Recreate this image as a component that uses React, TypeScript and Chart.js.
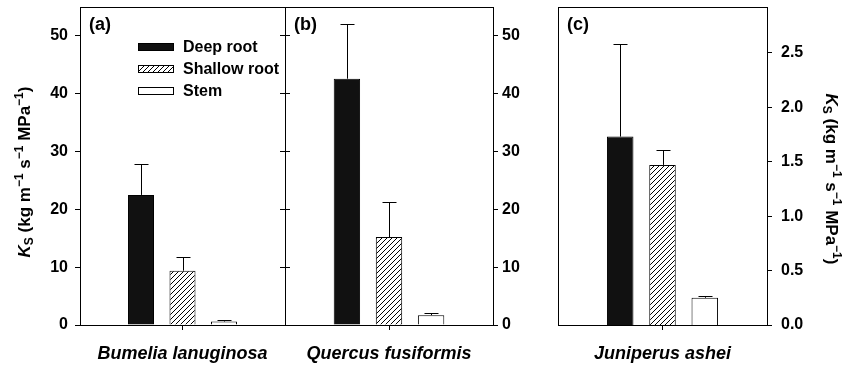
import React, { useEffect, useRef } from 'react';
import { Chart, registerables } from 'chart.js';

Chart.register(...registerables);

const FONT = '"Liberation Sans", Arial, Helvetica, sans-serif';

// ---- data ----
const categories = ['Bumelia lanuginosa', 'Quercus fusiformis', 'Juniperus ashei'];
const panelLabels = ['(a)', '(b)', '(c)'];
const seriesNames = ['Deep root', 'Shallow root', 'Stem'];
const deepRoot = [22.5, 42.6, 1.73];
const shallowRoot = [9.4, 15.2, 1.47];
const stem = [0.6, 1.7, 0.25];
const deepRootErr = [5.3, 9.5, 0.85];
const shallowRootErr = [2.3, 6.1, 0.14];
const stemErr = [0.25, 0.3, 0.015];
const yMax = [55, 55, 2.92];
const yStep = [10, 10, 0.5];
const yTitleParts = [
  { t: 'K', kind: 'italic' },
  { t: 'S', kind: 'sub' },
  { t: ' (kg m', kind: 'main' },
  { t: '\u22121', kind: 'sup' },
  { t: ' s', kind: 'main' },
  { t: '\u22121', kind: 'sup' },
  { t: ' MPa', kind: 'main' },
  { t: '\u22121', kind: 'sup' },
  { t: ')', kind: 'main' },
];

// ---- layout per panel ----
const panels = [
  { left: 0, width: 300, leftMode: 'labels', rightMode: 'ticks', leftW: 80, rightW: 15, legend: true, title: 'left' },
  { left: 270, width: 290, leftMode: 'ticks', rightMode: 'labels', leftW: 15, rightW: 67, legend: false, title: '' },
  { left: 540, width: 307, leftMode: 'none', rightMode: 'labels', leftW: 18, rightW: 80, legend: false, title: 'right' },
];
const labelPad = [7, 4, 9];

function fixBox(w?: number, h?: number) {
  return (s: any) => {
    if (w !== undefined) s.width = w;
    if (h !== undefined) s.height = h;
    s.paddingTop = 0;
    s.paddingBottom = 0;
    s.paddingLeft = 0;
    s.paddingRight = 0;
  };
}

function yScale(pos: string, mode: string, width: number, max: number, step: number, pad: number) {
  return {
    type: 'linear',
    position: pos,
    min: 0,
    max,
    ticks: {
      display: mode === 'labels',
      stepSize: step,
      includeBounds: false,
      color: '#000',
      padding: pad,
      font: { family: FONT, size: 16, weight: 'bold' },
      callback: (v: any) => (step < 1 ? Number(v).toFixed(1) : String(v)),
    },
    grid: { display: mode !== 'none', drawOnChartArea: false, tickLength: 5, color: '#000', lineWidth: 1 },
    border: { display: false },
    afterFit: fixBox(width),
  };
}

function makeHatch(ctx: CanvasRenderingContext2D) {
  const c = document.createElement('canvas');
  c.width = 5;
  c.height = 5;
  const g = c.getContext('2d') as CanvasRenderingContext2D;
  g.fillStyle = '#fff';
  g.fillRect(0, 0, 5, 5);
  g.strokeStyle = '#000';
  g.lineWidth = 1;
  g.beginPath();
  g.moveTo(0, 5);
  g.lineTo(5, 0);
  g.moveTo(-1, 1);
  g.lineTo(1, -1);
  g.moveTo(4, 6);
  g.lineTo(6, 4);
  g.stroke();
  return ctx.createPattern(c, 'repeat');
}

function drawRich(ctx: CanvasRenderingContext2D) {
  const fonts: any = {
    italic: `italic bold 17px ${FONT}`,
    main: `bold 17px ${FONT}`,
    sub: `bold 12px ${FONT}`,
    sup: `bold 12px ${FONT}`,
  };
  const dys: any = { italic: 0, main: 0, sub: 3, sup: -7 };
  let total = 0;
  const widths = yTitleParts.map((p) => {
    ctx.font = fonts[p.kind];
    const w = ctx.measureText(p.t).width;
    total += w;
    return w;
  });
  let x = -total / 2;
  ctx.textBaseline = 'alphabetic';
  ctx.textAlign = 'left';
  ctx.fillStyle = '#000';
  yTitleParts.forEach((p, i) => {
    ctx.font = fonts[p.kind];
    ctx.fillText(p.t, x, dys[p.kind]);
    x += widths[i];
  });
}

export default function App() {
  const refs = [useRef<HTMLCanvasElement>(null), useRef<HTMLCanvasElement>(null), useRef<HTMLCanvasElement>(null)];

  useEffect(() => {
    const charts: Chart[] = [];
    panels.forEach((p, i) => {
      const canvas = refs[i].current as HTMLCanvasElement;
      const ctx = canvas.getContext('2d') as CanvasRenderingContext2D;
      const hatch = makeHatch(ctx);
      const values = [deepRoot[i], shallowRoot[i], stem[i]];
      const errs = [deepRootErr[i], shallowRootErr[i], stemErr[i]];
      const fills = ['#111111', hatch, '#ffffff'];

      const decor = {
        id: 'decor' + i,
        afterDatasetsDraw(chart: any) {
          const c = chart.ctx as CanvasRenderingContext2D;
          const ys = chart.scales.y;
          c.save();
          c.strokeStyle = '#000';
          c.lineWidth = 1;
          values.forEach((v, d) => {
            const el = chart.getDatasetMeta(d).data[0];
            const x = Math.round(el.x) + 0.5;
            const yTop = Math.round(ys.getPixelForValue(v + errs[d])) + 0.5;
            const yBar = el.y;
            c.beginPath();
            c.moveTo(x, yBar);
            c.lineTo(x, yTop);
            c.moveTo(x - 7, yTop);
            c.lineTo(x + 7, yTop);
            c.stroke();
          });
          c.restore();
        },
        afterDraw(chart: any) {
          const c = chart.ctx as CanvasRenderingContext2D;
          const a = chart.chartArea;
          c.save();
          c.strokeStyle = '#000';
          c.lineWidth = 1;
          const l = Math.round(a.left) + 0.5;
          const r = Math.round(a.right) + 0.5;
          const t = Math.round(a.top) + 0.5;
          const b = Math.round(a.bottom) + 0.5;
          c.strokeRect(l, t, r - l, b - t);

          // panel label
          c.fillStyle = '#000';
          c.font = `bold 18px ${FONT}`;
          c.textAlign = 'left';
          c.textBaseline = 'alphabetic';
          c.fillText(panelLabels[i], a.left + 9, a.top + 23);

          // legend
          if (p.legend) {
            seriesNames.forEach((name, k) => {
              const cy = a.top + 40 + k * 22;
              const bx = a.left + 58;
              c.fillStyle = fills[k] as any;
              c.fillRect(bx, cy - 4, 36, 8);
              c.strokeStyle = '#000';
              c.strokeRect(bx + 0.5, cy - 3.5, 35, 7);
              c.fillStyle = '#000';
              c.font = `bold 16px ${FONT}`;
              c.textBaseline = 'middle';
              c.fillText(name, a.left + 103, cy + 1);
            });
          }

          // y title
          if (p.title === 'left') {
            c.save();
            c.translate(a.left - 50, 172);
            c.rotate(-Math.PI / 2);
            drawRich(c);
            c.restore();
          } else if (p.title === 'right') {
            c.save();
            c.translate(a.right + 59, 179);
            c.rotate(Math.PI / 2);
            drawRich(c);
            c.restore();
          }
          c.restore();
        },
      };

      const chart = new Chart(ctx, {
        type: 'bar',
        data: {
          labels: [categories[i]],
          datasets: seriesNames.map((name, d) => ({
            label: name,
            data: [values[d]],
            backgroundColor: fills[d] as any,
            borderColor: '#000',
            borderWidth: 1,
            barPercentage: 0.627,
            categoryPercentage: 0.607,
            yAxisID: 'y',
          })),
        },
        options: {
          responsive: false,
          animation: false,
          devicePixelRatio: 1,
          layout: { padding: { top: 7, left: 0, right: 0, bottom: 0 } },
          plugins: { legend: { display: false }, tooltip: { enabled: false } },
          scales: {
            x: {
              type: 'category',
              offset: true,
              grid: { display: true, offset: false, drawOnChartArea: false, tickLength: 5, color: '#000', lineWidth: 1 },
              border: { display: false },
              ticks: {
                color: '#000',
                padding: 13,
                maxRotation: 0,
                autoSkip: false,
                font: { family: FONT, size: 18, style: 'italic', weight: 'bold' },
              },
              afterFit: fixBox(undefined, 41),
            },
            y: yScale('left', p.leftMode, p.leftW, yMax[i], yStep[i], labelPad[i]),
            y2: yScale('right', p.rightMode, p.rightW, yMax[i], yStep[i], labelPad[i]),
          } as any,
        },
        plugins: [decor as any],
      } as any);
      charts.push(chart);
    });
    return () => charts.forEach((c) => c.destroy());
  }, []);

  return (
    <div style={{ position: 'absolute', left: 0, top: 0, width: 847, height: 366, background: '#fff', overflow: 'hidden' }}>
      {panels.map((p, i) => (
        <canvas
          key={i}
          ref={refs[i]}
          width={p.width}
          height={366}
          style={{ position: 'absolute', left: p.left, top: 0, width: p.width, height: 366 }}
        />
      ))}
    </div>
  );
}
